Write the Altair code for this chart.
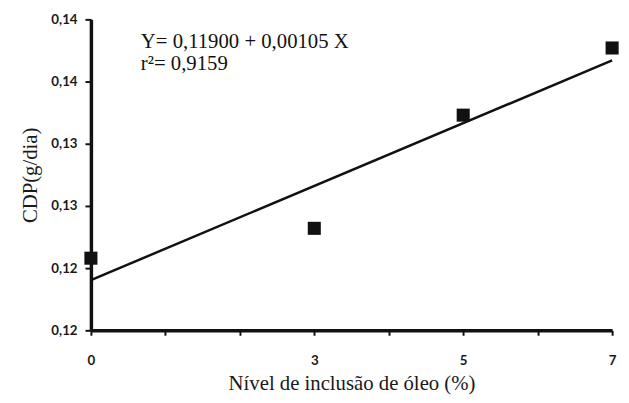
import altair as alt
import pandas as pd

nivel = [0, 3, 5, 7]
cdp = [0.1208, 0.1232, 0.1323, 0.1377]
y_ticks = [0.115, 0.120, 0.125, 0.130, 0.135, 0.140]
x_ticks = [0, 1, 2, 3, 4, 5, 6, 7]
eq_lines = ["Y= 0,11900 + 0,00105 X", "r\u00b2= 0,9159"]
eq_x = [0.67, 0.67]
eq_y = [0.13815, 0.1364]

df = pd.DataFrame({"x": nivel, "y": cdp})
ann = pd.DataFrame({"x": eq_x, "y": eq_y, "t": eq_lines})

xscale = alt.Scale(domain=[0, 7], nice=False, zero=False)
yscale = alt.Scale(domain=[0.115, 0.140], nice=False, zero=False)

common = dict(
    titleFont="Liberation Serif", titleFontSize=21, titleFontWeight="normal",
    titleColor="#1a1a1a",
    labelFont="Lato", labelFontWeight="bold", labelFontSize=13.5, labelColor="#1a1a1a",
    tickWidth=2, tickColor="#111111", labelFlush=False,
    domainColor="#111111", domainWidth=3.5, grid=False,
)

xaxis = alt.Axis(
    values=x_ticks,
    labelExpr="indexof([0,3,5,7], datum.value) >= 0 ? format(datum.value, 'd') : ''",
    title="N\u00edvel de inclus\u00e3o de \u00f3leo (%)",
    titlePadding=5, labelPadding=19, tickSize=5, **common,
)
yaxis = alt.Axis(
    values=y_ticks,
    labelExpr="replace(format(datum.value, '.2f'), '.', ',')",
    title="CDP(g/dia)",
    titlePadding=10, labelPadding=8, tickSize=6, **common,
)

base = alt.Chart(df)
X = alt.X("x:Q", scale=xscale, axis=xaxis)
Y = alt.Y("y:Q", scale=yscale, axis=yaxis)

line = base.transform_regression("x", "y", extent=[0, 7]).mark_line(
    color="#111111", strokeWidth=2.5
).encode(x=X, y=Y)

points = base.mark_square(size=175, color="#111111", opacity=1, clip=False).encode(x=X, y=Y)

text = alt.Chart(ann).mark_text(
    align="left", baseline="middle", font="Liberation Serif", fontSize=21, color="#111111"
).encode(x=X, y=Y, text="t:N")

chart = alt.layer(line, points, text).properties(
    width=528, height=315,
    autosize=alt.AutoSizeParams(type="none"),
    padding={"left": 84, "top": 9, "right": 9, "bottom": 63},
).configure_view(stroke=None).configure_axis(**common)

chart.save("out.html", embed_options={"renderer": "svg", "actions": False})
